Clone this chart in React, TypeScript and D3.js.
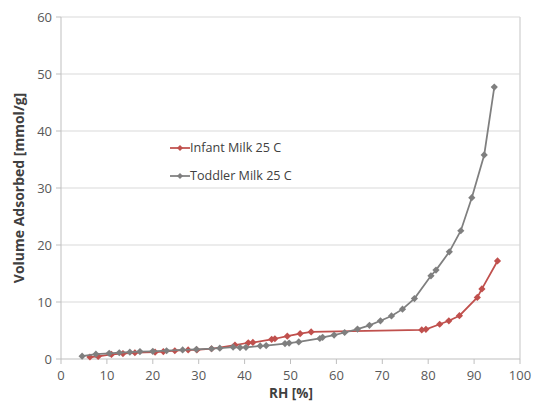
import React from 'react';
import * as d3 from 'd3';

// relative humidity (%) / volume adsorbed (mmol/g)
const infantRH = [6.3, 8.1, 11, 13.5, 16.1, 20.5, 22.3, 24.8, 27.7, 29.6, 32.8, 37.9, 40.8, 41.8, 45.9, 46.6, 49.3, 52.1, 54.5, 78.6, 79.5, 82.5, 84.5, 86.8, 90.7, 91.7, 95.1];
const infantVol = [0.35, 0.45, 0.8, 0.95, 1.1, 1.2, 1.3, 1.45, 1.6, 1.6, 1.8, 2.45, 2.85, 2.9, 3.45, 3.55, 4.0, 4.45, 4.75, 5.1, 5.2, 6.1, 6.7, 7.6, 10.8, 12.3, 17.2];

const toddlerRH = [4.6, 7.6, 10.5, 12.7, 15, 17.2, 20, 23, 26.5, 29.5, 32.8, 34.6, 37.5, 39, 40.3, 43.4, 44.7, 48.8, 49.7, 51.8, 56.4, 57, 59.5, 61.8, 64.6, 67.2, 69.6, 72, 74.4, 77, 80.6, 81.7, 84.6, 87.1, 89.5, 92.2, 94.4];
const toddlerVol = [0.5, 0.85, 1.0, 1.1, 1.2, 1.3, 1.35, 1.45, 1.6, 1.7, 1.8, 1.9, 2.1, 2.0, 2.05, 2.3, 2.35, 2.7, 2.8, 3.0, 3.6, 3.8, 4.2, 4.65, 5.25, 5.9, 6.7, 7.55, 8.75, 10.6, 14.6, 15.6, 18.8, 22.5, 28.3, 35.8, 47.7];

const xTicks = [0, 10, 20, 30, 40, 50, 60, 70, 80, 90, 100];
const yTicks = [0, 10, 20, 30, 40, 50, 60];

const seriesNames = ['Infant Milk 25 C', 'Toddler Milk 25 C'];
const seriesColors = ['#c0504d', '#7f7f7f'];

const W = 535;
const H = 408;
const M = { top: 17, right: 15, bottom: 49, left: 61 };
const FONT = '"Open Sans", "Liberation Sans", sans-serif';

const diamond = (r: number) => `M0,${-r}L${r},0L0,${r}L${-r},0Z`;

export default function App() {
  const x = d3.scaleLinear().domain([0, 100]).range([M.left, W - M.right]);
  const y = d3.scaleLinear().domain([0, 60]).range([H - M.bottom, M.top]);

  const series = [
    infantRH.map((rh, i) => [rh, infantVol[i]] as [number, number]),
    toddlerRH.map((rh, i) => [rh, toddlerVol[i]] as [number, number]),
  ];

  const line = d3.line<[number, number]>()
    .x(d => x(d[0]))
    .y(d => y(d[1]));

  const x0 = x(0);
  const x1 = x(100);
  const yb = y(0);

  return (
    <svg width={W} height={H} style={{ position: 'absolute', left: 0, top: 0, background: '#fff' }}>
      {/* gridlines */}
      {yTicks.filter(t => t > 0).map(t => (
        <line key={t} x1={x0} x2={x1} y1={y(t)} y2={y(t)} stroke="#d9d9d9" strokeWidth={1} />
      ))}
      <line x1={x1} x2={x1} y1={y(60)} y2={yb} stroke="#d9d9d9" strokeWidth={1.5} />

      {/* axes */}
      <line x1={x0} x2={x0} y1={y(60)} y2={yb} stroke="#bfbfbf" />
      <line x1={x0} x2={x1} y1={yb} y2={yb} stroke="#bfbfbf" />
      {yTicks.map(t => (
        <g key={t}>
          <line x1={x0 - 5} x2={x0} y1={y(t)} y2={y(t)} stroke="#bfbfbf" />
          <text x={x0 - 9} y={y(t)} dy="0.35em" textAnchor="end" fontSize={13} fill="#595959" fontFamily={FONT}>{t}</text>
        </g>
      ))}
      {xTicks.map(t => (
        <g key={t}>
          <line x1={x(t)} x2={x(t)} y1={yb} y2={yb + 5} stroke="#bfbfbf" />
          <text x={x(t)} y={yb + 21} textAnchor="middle" fontSize={13} fill="#595959" fontFamily={FONT}>{t}</text>
        </g>
      ))}

      {/* axis titles */}
      <text x={291} y={398} textAnchor="middle" fontSize={13.5} fontWeight="bold" fill="#404040" fontFamily={FONT}>RH [%]</text>
      <text transform={`translate(24,${(y(0) + y(60)) / 2}) rotate(-90)`} textAnchor="middle" fontSize={14} fontWeight="bold" fill="#404040" fontFamily={FONT}>
        Volume Adsorbed [mmol/g]
      </text>

      {/* series */}
      {series.map((pts, s) => (
        <g key={s}>
          <path d={line(pts) ?? ''} fill="none" stroke={seriesColors[s]} strokeWidth={1.75} />
          {pts.map((p, i) => (
            <path key={i} d={diamond(3.6)} transform={`translate(${x(p[0])},${y(p[1])})`} fill={seriesColors[s]} />
          ))}
        </g>
      ))}

      {/* legend */}
      {seriesNames.map((name, s) => {
        const ly = 148 + s * 28;
        return (
          <g key={name}>
            <line x1={170} x2={190} y1={ly} y2={ly} stroke={seriesColors[s]} strokeWidth={1.75} />
            <path d={diamond(3)} transform={`translate(180,${ly})`} fill={seriesColors[s]} />
            <text x={190} y={ly} dy="0.35em" fontSize={12.6} fill="#404040" fontFamily={FONT}>{name}</text>
          </g>
        );
      })}
    </svg>
  );
}
